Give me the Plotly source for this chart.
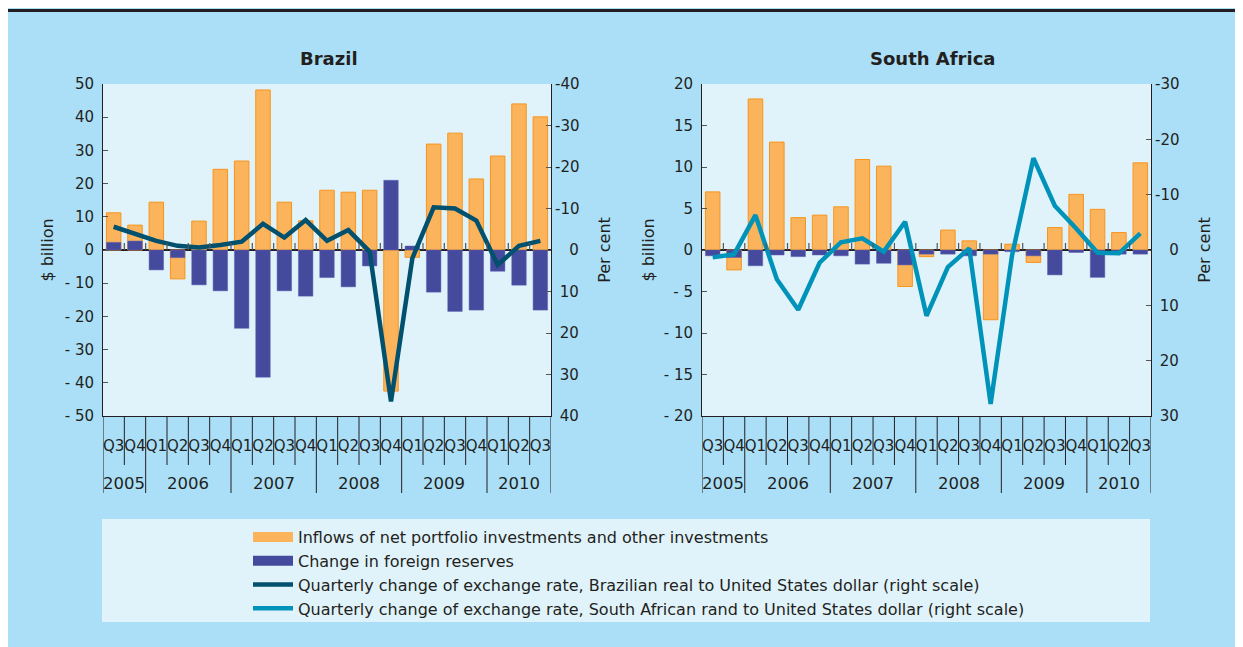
import plotly.graph_objects as go

# ---------------- data ----------------
quarters = ["Q3", "Q4", "Q1", "Q2", "Q3", "Q4", "Q1", "Q2", "Q3", "Q4", "Q1",
            "Q2", "Q3", "Q4", "Q1", "Q2", "Q3", "Q4", "Q1", "Q2", "Q3"]
years = ["2005"] * 2 + ["2006"] * 4 + ["2007"] * 4 + ["2008"] * 4 + ["2009"] * 4 + ["2010"] * 3

brazil_inflows = [11.2, 7.5, 14.4, -8.7, 8.7, 24.3, 26.8, 48.2, 14.4, 8.8, 18.0,
                  17.4, 18.0, -42.5, -2.2, 31.9, 35.2, 21.4, 28.3, 44.0, 40.1]
brazil_reserves = [2.3, 2.7, -6.0, -2.3, -10.5, -12.3, -23.6, -38.3, -12.3, -13.9, -8.3,
                   -11.1, -4.8, 21.0, 1.2, -12.7, -18.5, -18.1, -6.4, -10.6, -18.1]
brazil_fx = [-5.6, -3.8, -2.2, -1.0, -0.6, -1.2, -2.0, -6.3, -3.0, -7.2, -2.2,
             -4.8, 0.4, 36.5, 2.0, -10.3, -10.0, -7.1, 3.6, -1.0, -2.2]

sa_inflows = [7.0, -2.4, 18.2, 13.0, 3.9, 4.2, 5.2, 10.9, 10.1, -4.4, -0.8,
              2.4, 1.1, -8.4, 0.7, -1.5, 2.7, 6.7, 4.9, 2.1, 10.5]
sa_reserves = [-0.7, -0.9, -1.9, -0.6, -0.8, -0.6, -0.7, -1.7, -1.6, -1.8, -0.5,
               -0.5, -0.7, -0.5, -0.2, -0.7, -3.0, -0.3, -3.3, -0.5, -0.5]
sa_fx = [1.3, 0.8, -6.3, 5.3, 10.8, 2.3, -1.4, -2.1, 0.3, -5.1, 11.9,
         3.1, -0.3, 27.8, 1.0, -16.6, -8.0, -3.9, 0.5, 0.6, -3.0]

brazil_left_ticks = [-50, -40, -30, -20, -10, 0, 10, 20, 30, 40, 50]
brazil_right_ticks = [-40, -30, -20, -10, 0, 10, 20, 30, 40]
sa_left_ticks = [-20, -15, -10, -5, 0, 5, 10, 15, 20]
sa_right_ticks = [-30, -20, -10, 0, 10, 20, 30]

name_inflows = "Inflows of net portfolio investments and other investments"
name_reserves = "Change in foreign reserves"
name_brl = "Quarterly change of exchange rate, Brazilian real to United States dollar (right scale)"
name_zar = "Quarterly change of exchange rate, South African rand to United States dollar (right scale)"

# ---------------- style ----------------
W, H = 1243, 647
OFF = 8  # page offset of the figure (body margin)
FONT = "DejaVu Sans, Verdana, sans-serif"
TXT = "#231f20"
PANEL = "#abdff8"
PLOTBG = "#e0f3fb"
ORANGE = "#fbb45c"
ORANGE_EDGE = "#f7941d"
PURPLE = "#464a9d"
PURPLE_EDGE = "#5d62b0"
BRL = "#00506e"
ZAR = "#0093b9"


def fx(px):
    return (px - OFF) / W


def fy(py):
    return 1 - (py - OFF) / H


def left_labels(vals):
    return [("- " + str(abs(v))) if v < 0 else str(v) for v in vals]


def right_labels(vals):
    # pad so the labels line up on their right edge, as in the original
    out = []
    for v in vals:
        s = str(v)
        if v == 0:
            s = "\u2007\u2008" + s
        elif v > 0:
            s = "\u2008" + s
        out.append(s)
    return out


idx = list(range(len(quarters)))
n = len(quarters)

fig = go.Figure()

panels = [
    dict(xa="x", ya="y", ya2="y2", inflows=brazil_inflows, reserves=brazil_reserves,
         fxv=brazil_fx, fxname=name_brl, fxcolor=BRL),
    dict(xa="x2", ya="y3", ya2="y4", inflows=sa_inflows, reserves=sa_reserves,
         fxv=sa_fx, fxname=name_zar, fxcolor=ZAR),
]

for p in panels:
    fig.add_trace(go.Bar(x=idx, y=p["inflows"], width=0.68, name=name_inflows,
                         marker=dict(color=ORANGE, line=dict(color=ORANGE_EDGE, width=1)),
                         xaxis=p["xa"], yaxis=p["ya"], showlegend=False))
    fig.add_trace(go.Bar(x=idx, y=p["reserves"], width=0.68, name=name_reserves,
                         marker=dict(color=PURPLE, line=dict(color=PURPLE_EDGE, width=0.5)),
                         xaxis=p["xa"], yaxis=p["ya"], showlegend=False))

# legend keys for the bar series (wide rectangular swatches, as in the original)
fig.add_trace(go.Scatter(x=[None], y=[None], mode="lines", name=name_inflows,
                         line=dict(color=ORANGE, width=12), xaxis="x", yaxis="y",
                         hoverinfo="skip"))
fig.add_trace(go.Scatter(x=[None], y=[None], mode="lines", name=name_reserves,
                         line=dict(color=PURPLE, width=12), xaxis="x", yaxis="y",
                         hoverinfo="skip"))

for p in panels:
    fig.add_trace(go.Scatter(x=idx, y=p["fxv"], mode="lines", name=p["fxname"],
                             line=dict(color=p["fxcolor"], width=4.5),
                             xaxis=p["xa"], yaxis=p["ya2"], showlegend=True))

plot_top, plot_bot = 84, 416
ydom = [fy(plot_bot), fy(plot_top)]

common_x = dict(range=[-0.5, n - 0.5], tickmode="array", tickvals=idx, ticktext=quarters,
                ticks="", showline=True, linecolor=TXT, linewidth=1, showgrid=False,
                zeroline=False, tickfont=dict(size=15, color=TXT, family=FONT),
                tickangle=0, ticklabelstandoff=16, automargin=False, layer="above traces")
common_y = dict(ticks="inside", ticklen=5, tickcolor="#555555", tickwidth=1.2,
                showline=True, linecolor=TXT, linewidth=1, showgrid=False, automargin=False,
                tickfont=dict(size=15, color=TXT, family=FONT), layer="above traces")
title_font = dict(size=16, color=TXT, family=FONT)

fig.update_layout(
    xaxis=dict(domain=[fx(103), fx(551)], anchor="y", **common_x),
    xaxis2=dict(domain=[fx(702), fx(1151)], anchor="y3", **common_x),
    yaxis=dict(domain=ydom, anchor="x", range=[-50, 50], tickmode="array",
               tickvals=brazil_left_ticks, ticktext=left_labels(brazil_left_ticks),
               zeroline=True, zerolinecolor=TXT, zerolinewidth=1.5, ticklabelstandoff=5,
               title=dict(text="$ billion", font=title_font, standoff=7),
               **common_y),
    yaxis2=dict(overlaying="y", side="right", anchor="x", range=[40, -40], tickmode="array",
                tickvals=brazil_right_ticks, ticktext=right_labels(brazil_right_ticks),
                zeroline=False,
                title=dict(text="Per cent", font=title_font, standoff=20),
                **common_y),
    yaxis3=dict(domain=ydom, anchor="x2", range=[-20, 20], tickmode="array",
                tickvals=sa_left_ticks, ticktext=left_labels(sa_left_ticks),
                zeroline=True, zerolinecolor=TXT, zerolinewidth=1.5, ticklabelstandoff=5,
                title=dict(text="$ billion", font=title_font, standoff=5),
                **common_y),
    yaxis4=dict(overlaying="y3", side="right", anchor="x2", range=[30, -30], tickmode="array",
                tickvals=sa_right_ticks, ticktext=right_labels(sa_right_ticks),
                zeroline=False,
                title=dict(text="Per cent", font=title_font, standoff=20),
                **common_y),
    barmode="overlay",
    width=W, height=H,
    margin=dict(l=0, r=0, t=0, b=0, autoexpand=False),
    paper_bgcolor=PANEL,
    plot_bgcolor=PLOTBG,
    font=dict(family=FONT, color=TXT, size=15),
    showlegend=True,
    legend=dict(x=fx(248), y=fy(520), xanchor="left", yanchor="top",
                bgcolor="rgba(0,0,0,0)", itemwidth=40, traceorder="normal",
                font=dict(size=16, color=TXT, family=FONT)),
)

shapes = []
# dark rule at the top
shapes.append(dict(type="line", xref="paper", yref="paper", x0=0, x1=1, y0=fy(10.5), y1=fy(10.5),
                   line=dict(color=TXT, width=3)))
# legend box
shapes.append(dict(type="rect", xref="paper", yref="paper", x0=fx(102), x1=fx(1150),
                   y0=fy(622), y1=fy(519), fillcolor=PLOTBG, line=dict(width=0), layer="below"))

# category separators below the axes and small ticks on the zero line
year_change = [i for i in range(1, n) if years[i] != years[i - 1]]
for xa, ya, tick_h in (("x", "y", 2.1), ("x2", "y3", 0.85)):
    for b in range(n + 1):
        xb = b - 0.5
        long_line = b == 0 or b == n or b in year_change
        shapes.append(dict(type="line", xref=xa, yref="paper", x0=xb, x1=xb,
                           y0=fy(plot_bot), y1=fy(493 if long_line else 465),
                           line=dict(color=TXT, width=1), layer="above"))
        if 0 < b < n:
            shapes.append(dict(type="line", xref=xa, yref=ya, x0=xb, x1=xb, y0=0, y1=tick_h,
                               line=dict(color="#555555", width=1.2), layer="above"))

annotations = []
uniq_years = []
for y in years:
    if y not in uniq_years:
        uniq_years.append(y)
for xa in ("x", "x2"):
    for yv in uniq_years:
        pos = [i for i in idx if years[i] == yv]
        annotations.append(dict(x=sum(pos) / len(pos), y=fy(483), xref=xa, yref="paper",
                                text=yv, showarrow=False, xanchor="center", yanchor="middle",
                                font=dict(size=16.5, color=TXT, family=FONT)))

annotations.append(dict(x=fx(329), y=fy(59), xref="paper", yref="paper", text="<b>Brazil</b>",
                        showarrow=False, xanchor="center", yanchor="middle",
                        font=dict(size=18, color=TXT, family=FONT)))
annotations.append(dict(x=fx(932), y=fy(59), xref="paper", yref="paper", text="<b>South Africa</b>",
                        showarrow=False, xanchor="center", yanchor="middle",
                        font=dict(size=18, color=TXT, family=FONT)))

fig.update_layout(shapes=shapes, annotations=annotations)

fig.write_html("out.html")
